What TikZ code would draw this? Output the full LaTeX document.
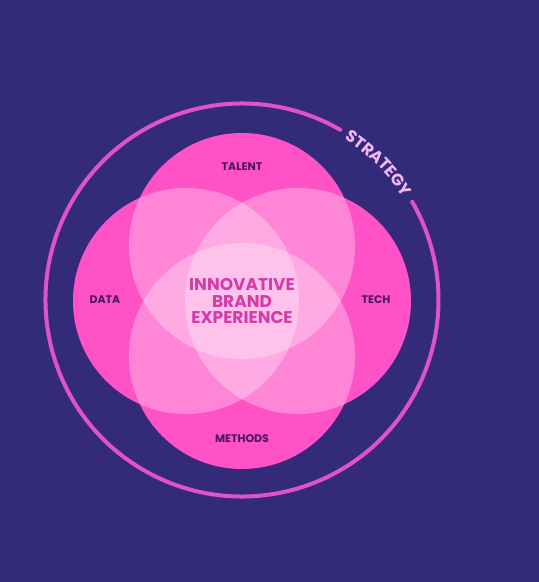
\documentclass[tikz,border=0pt]{standalone}
\usepackage{fontspec}
\setmainfont{Poppins}
\usetikzlibrary{decorations.text}

\definecolor{night}{HTML}{342A7A}
\definecolor{hotpink}{HTML}{FF08B0}
\definecolor{ringpink}{HTML}{E052CC}
\definecolor{lilac}{HTML}{F4B8F0}
\definecolor{plum}{HTML}{4A1466}
\definecolor{magenta}{HTML}{D23BA8}

\tikzset{
  petal/.style={fill=hotpink},
  glow/.style={fill=white, fill opacity=0.3},
  tag/.style={text=plum, font=\fontsize{11}{11}\selectfont\bfseries},
  core/.style={text=magenta, align=center, font=\fontsize{17}{16.7}\selectfont\bfseries},
  ring/.style={draw=ringpink, line width=4pt, line cap=round}
}

\begin{document}
\begin{tikzpicture}[x=1pt, y=1pt]
				\useasboundingbox (0,0) rectangle (539,582);
				\fill[night] (0,0) rectangle (539,582);
				
				% outer ring with a gap for the word
				\draw[ring] ([shift={(242,282)}]60:196.5) arc[start angle=60, end angle=390, radius=196.5pt];
				\path[decorate, decoration={text along path, text align=center, raise=-5.5pt,
				  text color=lilac, text={|\fontsize{16.5}{16.5}\selectfont\bfseries|STRATEGY}}]
				  ([shift={(242,282)}]60:196.5) arc[start angle=60, end angle=30, radius=196.5pt];
				
				% four circles
				\foreach \cx/\cy in {242/336, 186/281, 298/281, 242/226}
				  \fill[petal] (\cx,\cy) circle[radius=113pt];
				\foreach \cx/\cy in {242/336, 186/281, 298/281, 242/226}
				  \fill[glow] (\cx,\cy) circle[radius=113pt];
				
				\node[tag] (talent) at (242,415) {TALENT};
				\node[tag] (data) at (105,282) {DATA};
				\node[tag] (tech) at (376,282) {TECH};
				\node[tag] (methods) at (242,143) {METHODS};
				
				\node[core] (brand) at (242,281) {INNOVATIVE\\BRAND\\EXPERIENCE};
			\end{tikzpicture}
\end{document}
